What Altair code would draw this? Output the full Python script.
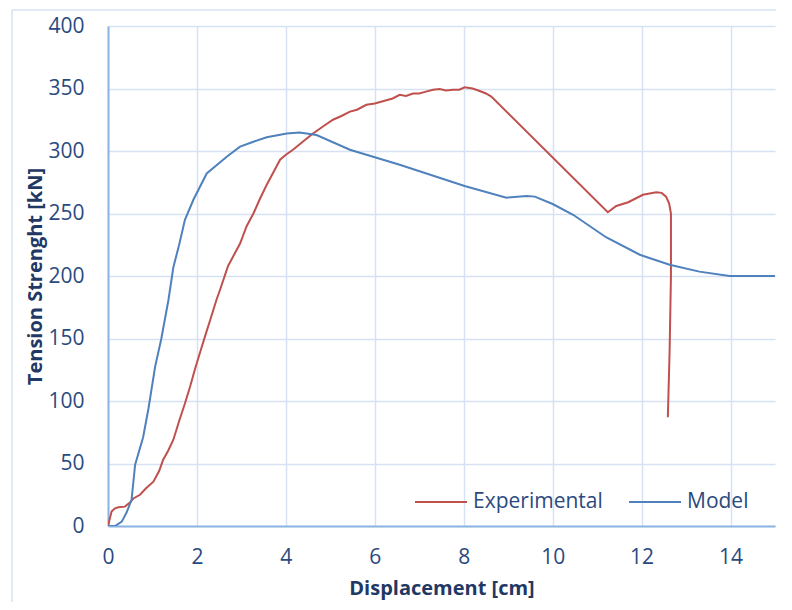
import altair as alt
import pandas as pd

# Experimental curve
exp_x = [0, 0.08, 0.15, 0.23, 0.38, 0.5, 0.57, 0.72, 0.85, 1.02, 1.15, 1.24, 1.35, 1.47, 1.6, 1.73,
         1.85, 1.96, 2.08, 2.18, 2.3, 2.44, 2.52, 2.7, 2.85, 2.97, 3.12, 3.27, 3.42, 3.57, 3.72, 3.87,
         4.0, 4.16, 4.4, 4.61, 4.85, 5.06, 5.25, 5.44, 5.6, 5.81, 6.0, 6.2, 6.4, 6.56, 6.7, 6.86, 7.0,
         7.15, 7.31, 7.46, 7.6, 7.76, 7.9, 8.02, 8.2, 8.36, 8.5, 8.62, 11.24, 11.43, 11.7, 12.03,
         12.33, 12.45, 12.55, 12.62, 12.66, 12.66, 12.63, 12.59]
exp_y = [0, 11.5, 14, 15, 15.5, 19, 22, 25, 30, 35.5, 44, 53, 60, 69, 84, 98, 112, 126, 140, 151.5,
         165, 181, 189, 208, 218, 226, 240, 250, 262, 273, 283, 293, 297, 301, 308, 314, 320, 325,
         328, 331.5, 333, 337, 338, 340, 342, 345, 344, 346, 346, 347.5, 349, 349.5, 348.5, 349, 349,
         351, 350, 348, 346, 343.5, 251, 256, 259, 265, 267, 266.5, 263.5, 258, 250, 200, 140, 87]

# Model curve
mod_x = [0, 0.16, 0.31, 0.42, 0.53, 0.61, 0.7, 0.79, 0.91, 1.06, 1.2, 1.36, 1.47, 1.6, 1.73, 1.92,
         2.22, 2.67, 2.97, 3.27, 3.57, 4.02, 4.31, 4.69, 5.44, 6.56, 8.02, 8.96, 9.41, 9.6, 10.0,
         10.46, 11.2, 11.96, 12.63, 13.3, 13.98, 15]
mod_y = [0, 0, 3.5, 11, 21, 49, 60, 71, 94, 127.5, 150, 181, 207, 225, 245, 261, 282, 295.4, 303.5,
         307.4, 311, 314, 314.7, 312.8, 301, 289, 272, 262.7, 264, 263.5, 257.6, 249, 231, 217, 209,
         203.5, 200, 200]

series_names = ["Experimental", "Model"]
series_colors = ["#C0504D", "#4F81BD"]
x_ticks = [0, 2, 4, 6, 8, 10, 12, 14]
y_ticks = [0, 50, 100, 150, 200, 250, 300, 350, 400]

rows = []
for i, (x, y) in enumerate(zip(exp_x, exp_y)):
    rows.append({"disp": x, "force": y, "series": series_names[0], "idx": i})
for i, (x, y) in enumerate(zip(mod_x, mod_y)):
    rows.append({"disp": x, "force": y, "series": series_names[1], "idx": i})
df = pd.DataFrame(rows)

TEXT = "#1F3864"
LABEL = "#2A4A7F"
FONT = "Open Sans"

lines = alt.Chart(df).mark_line(strokeWidth=2, clip=True).encode(
    x=alt.X("disp:Q",
            scale=alt.Scale(domain=[0, 15], nice=False),
            axis=alt.Axis(values=x_ticks, title="Displacement [cm]", grid=True,
                          gridColor="#D6E2F3", gridWidth=1.5, labelFlush=False,
                          domainColor="#8DB3E2", domainWidth=2, ticks=False,
                          labelFont=FONT, labelFontSize=21, labelColor=LABEL, labelPadding=20,
                          titleFont=FONT, titleFontSize=20, titleFontWeight="bold",
                          titleColor=TEXT, titleY=62, titleBaseline="middle")),
    y=alt.Y("force:Q",
            scale=alt.Scale(domain=[0, 400], nice=False),
            axis=alt.Axis(values=y_ticks, title="Tension Strenght [kN]", grid=True,
                          gridColor="#D6E2F3", gridWidth=1.5, labelFlush=False,
                          domainColor="#8DB3E2", domainWidth=2, ticks=False,
                          labelFont=FONT, labelFontSize=21, labelColor=LABEL, labelPadding=24,
                          titleFont=FONT, titleFontSize=20, titleFontWeight="bold",
                          titleColor=TEXT, titleX=-73, titleY=250, titleBaseline="middle")),
    color=alt.Color("series:N",
                    scale=alt.Scale(domain=series_names, range=series_colors),
                    legend=alt.Legend(orient="none", legendX=306, legendY=449, direction="horizontal",
                                      title=None, symbolType="stroke", symbolSize=2704,
                                      symbolStrokeWidth=2, labelFont=FONT, labelFontSize=21,
                                      labelColor=LABEL, labelOffset=5, columnPadding=22)),
    order="idx:Q",
)

frame_src = pd.DataFrame({"a": [0]})
border_top = alt.Chart(frame_src).mark_rule(stroke="#D6E2F3", strokeWidth=1.5, clip=False).encode(
    x=alt.value(-96), x2=alt.value(900), y=alt.value(-16))
border_left = alt.Chart(frame_src).mark_rule(stroke="#D6E2F3", strokeWidth=1.5, clip=False).encode(
    x=alt.value(-96), y=alt.value(-16), y2=alt.value(900))

chart = alt.layer(border_top, border_left, lines).properties(
    width=667, height=500,
    padding={"left": 100, "top": 18, "right": 1, "bottom": 76},
    autosize=alt.AutoSizeParams(type="none"),
).configure_view(stroke=None)

chart.save("out.html", embed_options={"renderer": "svg", "actions": False})
